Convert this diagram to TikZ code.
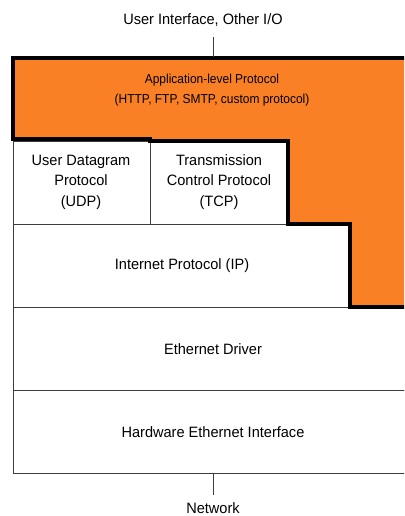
\documentclass[tikz,border=0pt]{standalone}
\usepackage{fontspec}
\setmainfont{Liberation Sans}
\newfontfamily\lblfont[FakeStretch=0.97]{Liberation Sans}
\newfontfamily\appfont[FakeStretch=0.92]{Liberation Sans}
\definecolor{apporange}{RGB}{250,128,37}
\definecolor{thinline}{RGB}{60,60,60}
\begin{document}
\begin{tikzpicture}[x=1pt,y=-1pt,
  layer/.style={draw=thinline,line width=1pt,fill=white},
  lbl/.style={font=\lblfont\fontsize{15}{20.5}\selectfont,align=center,inner sep=0pt},
  applbl/.style={font=\appfont\fontsize{13}{19.5}\selectfont,align=center,inner sep=0pt},
  conn/.style={draw=thinline,line width=0.8pt}]
\useasboundingbox (0,0) rectangle (404,516);
\begin{scope}
\clip (0,0) rectangle (404,516);
% layers
\path[layer] (13,141) rectangle (150,224);
\path[layer] (150,141) rectangle (288,224);
\path[layer] (13,224) rectangle (350,307);
\path[layer] (13,307) rectangle (420,390);
\path[layer] (13,390) rectangle (420,473);
% application region
\path[fill=apporange,draw=black,line width=4pt,line join=miter]
  (13,58) -- (420,58) -- (420,307) -- (350,307) -- (350,224) -- (288,224)
  -- (288,141) -- (150,141) -- (150,139) -- (13,139) -- cycle;
\end{scope}
% labels
\node[applbl] (app) at (212,90) {Application-level Protocol\\(HTTP, FTP, SMTP, custom protocol)};
\node[lbl] (udp) at (81,182) {User Datagram\\Protocol\\(UDP)};
\node[lbl] (tcp) at (219,182) {Transmission\\Control Protocol\\(TCP)};
\node[lbl] (ip) at (182,266) {Internet Protocol (IP)};
\node[lbl] (eth) at (213,349) {Ethernet Driver};
\node[lbl] (hw) at (213,432) {Hardware Ethernet Interface};
\node[lbl] (ui) at (203,20) {User Interface, Other I/O};
\node[lbl] (net) at (213,508) {Network};
\coordinate (appTop) at (213,57);
\coordinate (uiBot) at (213,37);
\coordinate (hwBot) at (213,473);
\coordinate (netTop) at (213,495);
\draw[conn] (uiBot) -- (appTop);
\draw[conn] (hwBot) -- (netTop);
\end{tikzpicture}
\end{document}
